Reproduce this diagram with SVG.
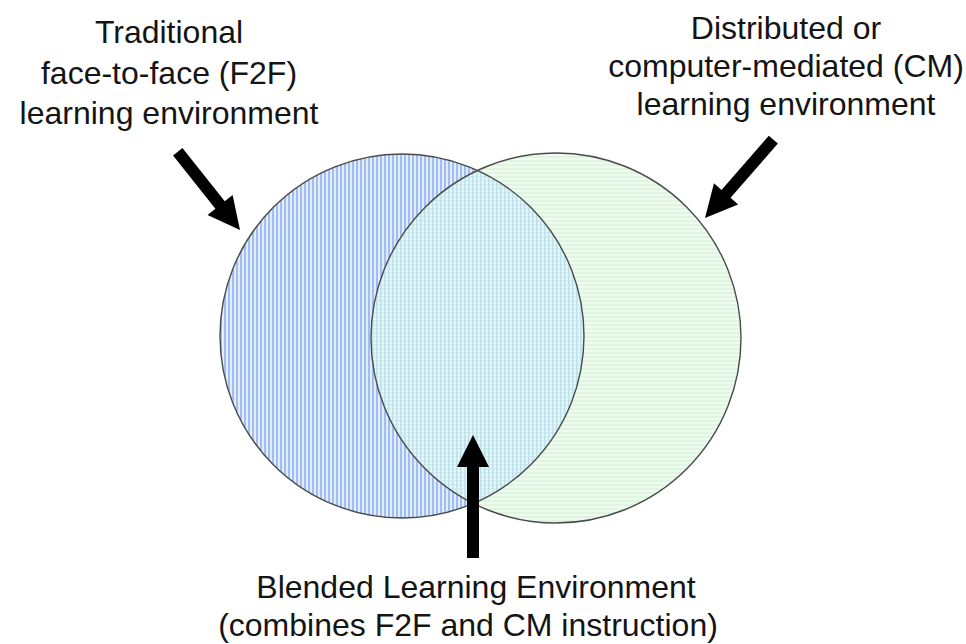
<svg xmlns="http://www.w3.org/2000/svg" width="966" height="644" viewBox="0 0 966 644">
<style>
  .lbl { font-family: "Liberation Sans", Arial, sans-serif; font-size: 32px; fill: #141414; text-anchor: middle; }
  .outline { fill: none; stroke: #4a4a4a; stroke-width: 1.4; }
  .arrow { fill: #000; }
</style>
<defs>
  <pattern id="vstripe" width="4" height="4" patternUnits="userSpaceOnUse">
    <rect width="4" height="4" fill="#e2ecfc"/>
    <rect x="0" width="2" height="4" fill="#9fbff3"/>
  </pattern>
  <pattern id="hstripe" width="4" height="4" patternUnits="userSpaceOnUse">
    <rect width="4" height="4" fill="#f0fbf0"/>
    <rect y="0" width="4" height="2" fill="#def5e0"/>
  </pattern>
  <pattern id="grid" width="4" height="4" patternUnits="userSpaceOnUse">
    <rect width="4" height="4" fill="#e8f7f6"/>
    <rect y="0" width="4" height="1.5" fill="#cfeee6"/>
    <rect x="0" width="1.5" height="4" fill="#bfe0f0"/>
  </pattern>
  <clipPath id="clipRight">
    <circle cx="556" cy="338" r="185"/>
  </clipPath>
</defs>

<g id="f2f-circle">
  <circle cx="402" cy="336" r="182" fill="url(#vstripe)"/>
</g>
<g id="cm-circle">
  <circle cx="556" cy="338" r="185" fill="url(#hstripe)"/>
</g>
<g id="blended-overlap">
  <circle cx="402" cy="336" r="182" fill="url(#grid)" clip-path="url(#clipRight)"/>
</g>
<g id="outlines">
  <circle class="outline" cx="402" cy="336" r="182"/>
  <circle class="outline" cx="556" cy="338" r="185"/>
</g>

<g id="connectors">
  <path class="arrow" transform="translate(240,230) rotate(51.5)" d="M0,0 L-32,-16 L-32,-6 L-100,-6 L-100,6 L-32,6 L-32,16 Z"/>
  <path class="arrow" transform="translate(705,218) rotate(131.1)" d="M0,0 L-32,-16 L-32,-6 L-104,-6 L-104,6 L-32,6 L-32,16 Z"/>
  <path class="arrow" transform="translate(473,435) rotate(-90)" d="M0,0 L-32,-16 L-32,-6 L-123,-6 L-123,6 L-32,6 L-32,16 Z"/>
</g>

<g id="label-f2f">
  <text class="lbl" x="169" y="43">Traditional</text>
  <text class="lbl" x="169" y="84">face-to-face (F2F)</text>
  <text class="lbl" x="169" y="124">learning environment</text>
</g>
<g id="label-cm">
  <text class="lbl" x="786" y="39">Distributed or</text>
  <text class="lbl" x="786" y="77">computer-mediated (CM)</text>
  <text class="lbl" x="786" y="115">learning environment</text>
</g>
<g id="label-blended">
  <text class="lbl" x="476" y="598">Blended Learning Environment</text>
  <text class="lbl" x="468" y="636">(combines F2F and CM instruction)</text>
</g>
</svg>
